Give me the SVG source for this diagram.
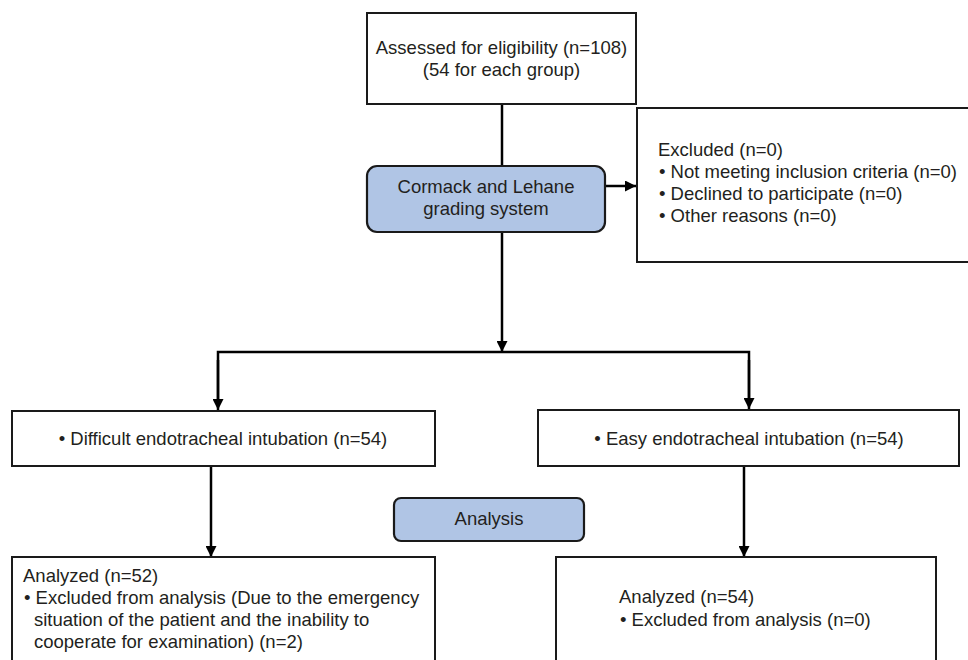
<svg xmlns="http://www.w3.org/2000/svg" width="968" height="660" viewBox="0 0 968 660">
  <defs>
    <style>
      .box { fill: #ffffff; stroke: #1a1a1a; stroke-width: 2; }
      .hdr { fill: #b0c5e5; stroke: #1a1a1a; stroke-width: 2.2; }
      .t { font-family: "Liberation Sans", Arial, sans-serif; font-size: 18.5px; fill: #231f20; }
      .c { text-anchor: middle; }
      .ln { fill: none; stroke: #000000; stroke-width: 2.5; }
    </style>
    <marker id="arr" markerUnits="userSpaceOnUse" markerWidth="11" markerHeight="11" refX="10" refY="5" orient="auto" viewBox="0 0 10 10">
      <path d="M0,0 L10,5 L0,10 Z" fill="#000000"/>
    </marker>
  </defs>
  <rect width="968" height="660" fill="#ffffff"/>

  <g id="connectors">
    <line class="ln" x1="502" y1="104" x2="502" y2="166"/>
    <line class="ln" x1="606" y1="186" x2="636" y2="186" marker-end="url(#arr)"/>
    <line class="ln" x1="502" y1="233" x2="502" y2="352" marker-end="url(#arr)"/>
    <polyline class="ln" points="218,400 218,352 749,352 749,400"/>
    <line class="ln" x1="218" y1="360" x2="218" y2="410" marker-end="url(#arr)"/>
    <line class="ln" x1="749" y1="360" x2="749" y2="409" marker-end="url(#arr)"/>
    <line class="ln" x1="211" y1="467" x2="211" y2="557" marker-end="url(#arr)"/>
    <line class="ln" x1="744" y1="467" x2="744" y2="557" marker-end="url(#arr)"/>
  </g>

  <g id="assessed">
    <rect class="box" x="367" y="13" width="269" height="91"/>
    <text class="t c" x="501.5" y="54">Assessed for eligibility (n=108)</text>
    <text class="t c" x="501.5" y="76">(54 for each group)</text>
  </g>

  <g id="cormack">
    <rect class="hdr" x="367" y="166" width="238" height="66" rx="10" ry="10"/>
    <text class="t c" x="486" y="193">Cormack and Lehane</text>
    <text class="t c" x="486" y="215">grading system</text>
  </g>

  <g id="excluded">
    <rect class="box" x="637" y="108" width="340" height="154"/>
    <text class="t" x="658" y="156">Excluded (n=0)</text>
    <text class="t" x="659" y="178">• Not meeting inclusion criteria (n=0)</text>
    <text class="t" x="659" y="200">• Declined to participate (n=0)</text>
    <text class="t" x="659" y="222">• Other reasons (n=0)</text>
  </g>

  <g id="difficult">
    <rect class="box" x="12" y="411" width="423" height="55"/>
    <text class="t c" x="223" y="445">• Difficult endotracheal intubation (n=54)</text>
  </g>

  <g id="easy">
    <rect class="box" x="538" y="410" width="421" height="56"/>
    <text class="t c" x="749" y="445">• Easy endotracheal intubation (n=54)</text>
  </g>

  <g id="analysis">
    <rect class="hdr" x="394" y="498" width="190" height="43" rx="7" ry="7"/>
    <text class="t c" x="489" y="525">Analysis</text>
  </g>

  <g id="analyzed-left">
    <rect class="box" x="12" y="557" width="423" height="115"/>
    <text class="t" x="23" y="582">Analyzed (n=52)</text>
    <text class="t" x="24" y="604">• Excluded from analysis (Due to the emergency</text>
    <text class="t" x="34" y="626">situation of the patient and the inability to</text>
    <text class="t" x="34" y="648">cooperate for examination) (n=2)</text>
  </g>

  <g id="analyzed-right">
    <rect class="box" x="556" y="557" width="380" height="115"/>
    <text class="t" x="619" y="603">Analyzed (n=54)</text>
    <text class="t" x="620" y="626">• Excluded from analysis (n=0)</text>
  </g>
</svg>
